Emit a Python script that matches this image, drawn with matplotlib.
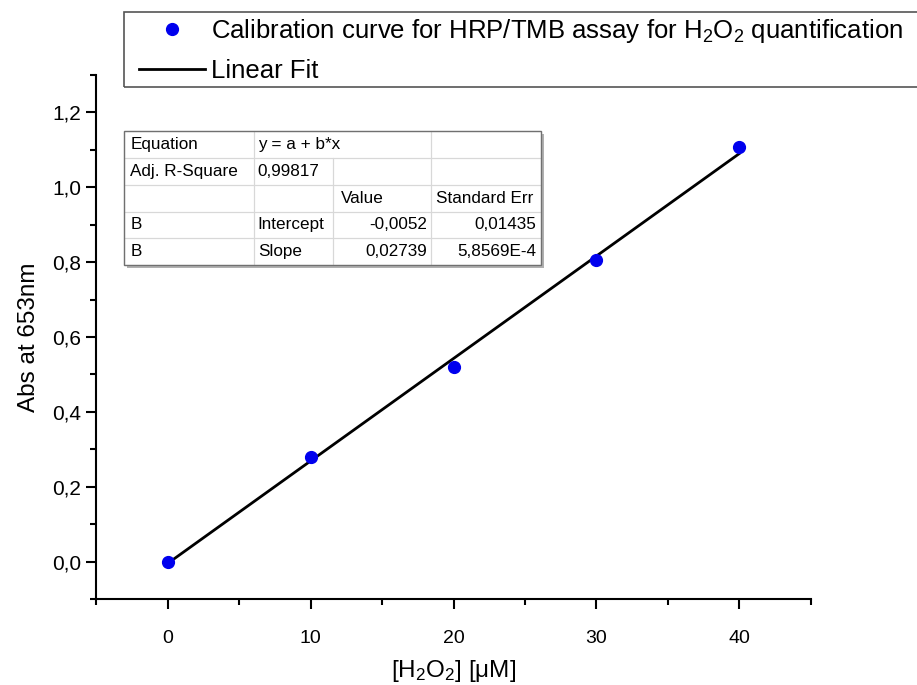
import numpy as np
import matplotlib
matplotlib.use("Agg")
from matplotlib import pyplot as plt
from matplotlib.ticker import MultipleLocator, FuncFormatter
from matplotlib.patches import Rectangle

# Datos de la curva de calibracion
conc = [0, 10, 20, 30, 40]
absorb = [0.0, 0.28, 0.52, 0.805, 1.107]

# Parametros del ajuste lineal (del cuadro)
intercepto = -0.0052
pendiente = 0.02739

tabla = [
    ["Equation", "y = a + b*x", "", ""],
    ["Adj. R-Square", "0,99817", "", ""],
    ["", "", "Value", "Standard Err"],
    ["B", "Intercept", "-0,0052", "0,01435"],
    ["B", "Slope", "0,02739", "5,8569E-4"],
]

plt.rcParams['font.family'] = ['Liberation Sans', 'DejaVu Sans']
plt.rcParams['mathtext.default'] = 'regular'

fig = plt.figure(figsize=(9.17, 6.85), dpi=100)
ax = fig.add_axes([0.1047, 0.1255, 0.7797, 0.765])

x_fit = np.array([conc[0], conc[-1]])
y_fit = intercepto + pendiente * x_fit
ax.plot(x_fit, y_fit, color='black', lw=2, label='Linear Fit', zorder=2)
ax.plot(conc, absorb, 'o', color='#0000ee', ms=8.5, mec='#0000ee',
        label='Calibration curve for HRP/TMB assay for H$_2$O$_2$ quantification', zorder=3)

ax.set_xlim(-5, 45)
ax.set_ylim(-0.1, 1.3)
ax.spines['top'].set_visible(False)
ax.spines['right'].set_visible(False)
ax.spines['left'].set_linewidth(1.5)
ax.spines['bottom'].set_linewidth(1.5)
ax.xaxis.set_major_locator(MultipleLocator(10))
ax.xaxis.set_minor_locator(MultipleLocator(5))
ax.yaxis.set_major_locator(MultipleLocator(0.2))
ax.yaxis.set_minor_locator(MultipleLocator(0.1))
ax.yaxis.set_major_formatter(FuncFormatter(lambda v, p: f"{v:.1f}".replace('.', ',')))
ax.tick_params(which='major', direction='out', length=7, width=1.5)
ax.tick_params(which='minor', direction='out', length=4, width=1.5)
ax.tick_params(axis='x', labelsize=14, pad=15)
ax.tick_params(axis='y', labelsize=15)
ax.set_xlabel('[H$_2$O$_2$] [μM]', fontsize=17.5, labelpad=8)
ax.set_ylabel('Abs at 653nm', fontsize=17.5, labelpad=9)

# Cuadro con los resultados del ajuste
bx, by, bw, bh = 0.039, 0.637, 0.583, 0.256
ax.add_patch(Rectangle((bx + 0.004, by - 0.006), bw, bh, transform=ax.transAxes,
                       facecolor='#b0b0b0', edgecolor='none', zorder=4))
ax.add_patch(Rectangle((bx, by), bw, bh, transform=ax.transAxes,
                       facecolor='white', edgecolor='none', zorder=4.5))
tb = ax.table(cellText=tabla, bbox=[bx, by, bw, bh], cellLoc='left', zorder=5)
tb.auto_set_font_size(False)
tb.set_fontsize(12.3)
anchos = [130, 79, 98, 110]
for (r, c), cell in tb.get_celld().items():
    cell.set_width(anchos[c] / 417 * bw)
    cell.set_edgecolor('#d8d8d8')
    cell.set_facecolor('none')
    cell.set_linewidth(0.8)
    if r >= 3 and c >= 2:
        cell.get_text().set_horizontalalignment('right')
        cell.PAD = 0.04
    else:
        cell.PAD = 0.05
tb[2, 2].PAD = 0.08
tb[0, 1].visible_edges = 'BTL'
tb[0, 2].visible_edges = 'BTR'
ax.add_patch(Rectangle((bx, by), bw, bh, transform=ax.transAxes, fill=False,
                       edgecolor='#707070', lw=1.0, zorder=6))

# Leyenda arriba (marco dibujado aparte, se sale por la derecha)
fig.patches.append(Rectangle((124 / 917, 1 - 87 / 685), 0.95, 75 / 685,
                             transform=fig.transFigure, fill=False,
                             edgecolor='#555555', lw=1.2))
h, l = ax.get_legend_handles_labels()
leg = fig.legend(h[::-1], l[::-1], loc='upper left', bbox_to_anchor=(134 / 917, 1 - 12 / 685),
                 fontsize=18.5, frameon=False, handlelength=2.6,
                 borderpad=0.18, labelspacing=0.55, handletextpad=0.2, borderaxespad=0)

fig.savefig('out.png', dpi=100)
